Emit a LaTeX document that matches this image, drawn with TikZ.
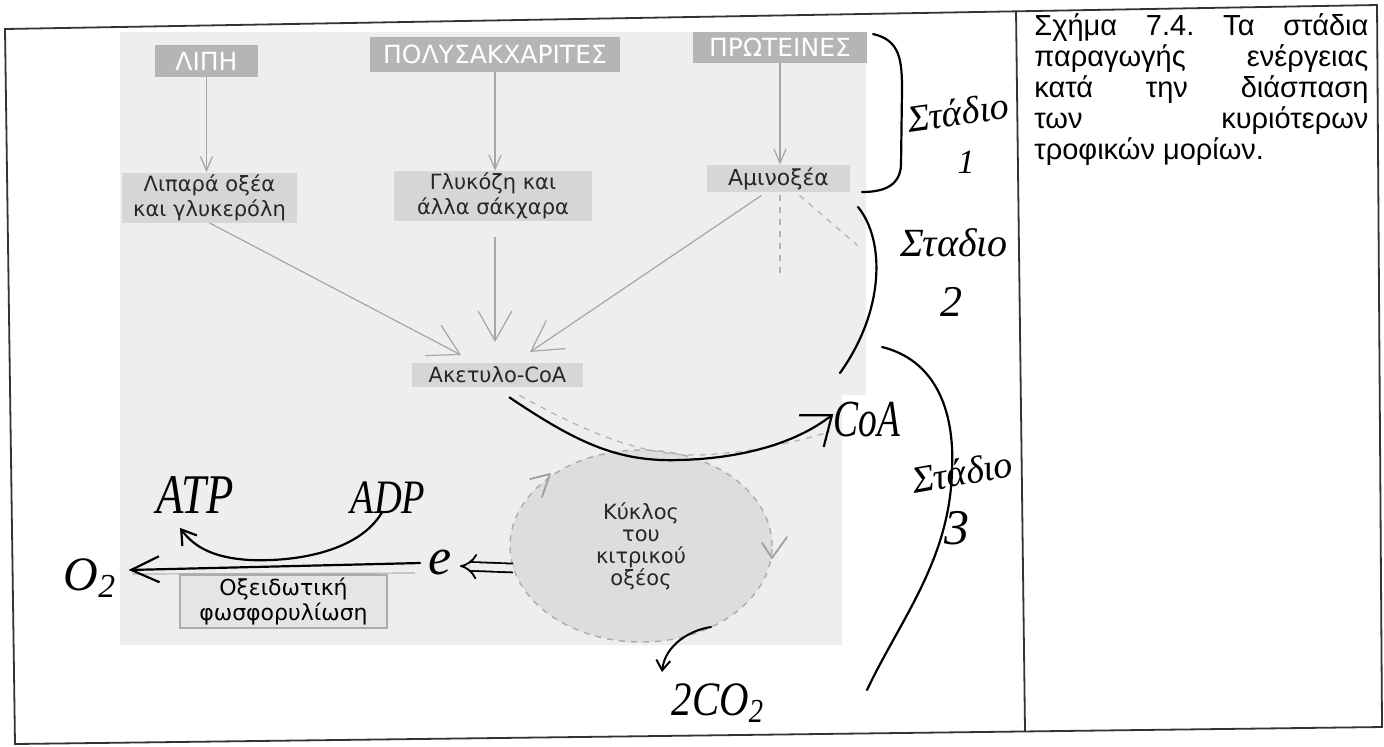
\documentclass[tikz,border=0pt]{standalone}
\usepackage{fontspec}
\setmainfont{Liberation Sans}
\newfontfamily\dvs{DejaVu Sans}
\newfontfamily\handfont{Liberation Serif}
\usetikzlibrary{arrows.meta,shapes.geometric,calc}
\tikzset{
  framel/.style={draw=black!80, line width=0.9pt},
  topbox/.style={fill=gray!58, text=white, inner sep=0pt, font=\dvs\fontsize{12.5}{13}\selectfont},
  midbox/.style={fill=gray!32, text=black!85, inner sep=0pt, align=center, font=\dvs\fontsize{10.5}{12.5}\selectfont},
  oxbox/.style={fill=gray!20, draw=gray!65, line width=0.8pt, inner sep=0pt, align=center, font=\dvs\fontsize{11}{12.5}\selectfont},
  thinarr/.style={draw=gray!70, line width=0.6pt, -{Straight Barb[length=7pt,width=6pt]}},
  bigarr/.style={draw=gray!70, line width=0.6pt, -{Straight Barb[length=15pt,width=17pt]}},
  graydash/.style={draw=gray!60, line width=0.6pt, dashed},
  hand/.style={draw=black, line width=1.1pt, line cap=round, line join=round},
  hw/.style={inner sep=0pt, text=black, font=\handfont\itshape\fontsize{18}{20}\selectfont},
}
\newcommand{\hsq}[2]{\scalebox{#1}[1]{#2}}
\begin{document}
\begin{tikzpicture}[x=0.5pt,y=-0.5pt]
\useasboundingbox (0,0) rectangle (1384,746);
\fill[white] (0,0) rectangle (1384,746);
% gray halftone background of the figure
\fill[gray!13] (120,32) -- (866,32) -- (866,395) -- (842,395) -- (842,645) -- (120,645) -- cycle;
% frame
\draw[framel] (5,29) -- (1377,5) -- (1382,727) -- (15,744) -- cycle;
\draw[framel] (1016,11) -- (1025,731);

% printed boxes
\node[topbox, minimum width=51.5pt, minimum height=16pt] (lipi) at (206.5,61) {ΛΙΠΗ};
\node[topbox, minimum width=125pt, minimum height=17.5pt] (poly) at (495,54.5) {ΠΟΛΥΣΑΚΧΑΡΙΤΕΣ};
\node[topbox, minimum width=87pt, minimum height=15.5pt] (prot) at (780,47.5) {ΠΡΩΤΕΙΝΕΣ};
\node[midbox, minimum width=87.5pt, minimum height=25pt] (lipara) at (209.5,197.5) {Λιπαρά οξέα\\και γλυκερόλη};
\node[midbox, minimum width=99pt, minimum height=25pt] (glyk) at (493,196) {Γλυκόζη και\\άλλα σάκχαρα};
\node[midbox, minimum width=71.5pt, minimum height=13.5pt, font=\dvs\fontsize{11}{12.5}\selectfont] (amino) at (778.5,178.5) {Αμινοξέα};
\node[midbox, minimum width=85.5pt, minimum height=12pt, font=\dvs\fontsize{10.5}{12}\selectfont] (acetyl) at (497.5,375) {Ακετυλο-CoA};
\node[ellipse, draw=gray!65, dashed, fill=gray!27, line width=0.7pt, minimum width=131pt, minimum height=96pt, inner sep=0pt, align=center, text=black!85, font=\dvs\fontsize{10.5}{11}\selectfont] (cycle) at (641,546) {Κύκλος\\του\\κιτρικού\\οξέος};
\node[oxbox, minimum width=103.5pt, minimum height=26.5pt] (oxid) at (283.5,601.5) {Οξειδωτική\\φωσφορυλίωση};

% printed arrows
\draw[thinarr] (lipi.south) -- (lipi.south |- lipara.north);
\draw[thinarr] (poly.south) -- (poly.south |- glyk.north);
\draw[thinarr] (prot.south) -- (prot.south |- amino.north);
\coordinate (t1) at (461,355);
\coordinate (t2) at (495,342);
\coordinate (t3) at (530,352);
\draw[bigarr] (lipara.south) -- (t1);
\draw[bigarr, shorten <=8pt] (glyk.south -| poly.south) -- (t2);
\draw[bigarr] ($(amino.south)+(-17,3)$) -- (t3);
\draw[graydash] ($(amino.south)+(1.5,3)$) -- ++(0,78);
\draw[graydash] ($(amino.south)+(21,3)$) -- ++(58,50);
\draw[graydash] ($(acetyl.south)+(22,8)$) .. controls (600,440) and (650,456) .. (700,455) .. controls (760,452) and (800,440) .. (830,432);
\draw[draw=gray!60, line width=0.6pt] (415,573) -- (132,574);
% small arrowheads on the cycle
\draw[draw=gray!75, line width=0.9pt, line cap=round, line join=round] (530,479) -- (550,474) -- (542,497);
\draw[draw=gray!75, line width=0.9pt, line cap=round, line join=round] (762,543) -- (772,558) -- (787,537);

% handwritten labels
\node[hw, font=\handfont\itshape\fontsize{26}{26}\selectfont] (coa) at (867,420) {\hsq{0.72}{CoA}};
\node[hw, font=\handfont\itshape\fontsize{28}{28}\selectfont] (atp) at (195,495) {\hsq{0.8}{ATP}};
\node[hw, font=\handfont\itshape\fontsize{24}{24}\selectfont] (adp) at (388,498) {\hsq{0.8}{ADP}};
\node[hw, font=\handfont\itshape\fontsize{26}{26}\selectfont] (e) at (440,562) {e};
\node[hw, font=\handfont\itshape\fontsize{24}{24}\selectfont] (o2) at (90,578) {O\textsubscript{2}};
\node[hw, font=\handfont\itshape\fontsize{24}{24}\selectfont] (co2) at (718,703) {\hsq{0.85}{2CO\textsubscript{2}}};
\node[hw, font=\handfont\itshape\fontsize{19}{19}\selectfont, rotate=8] (st1) at (958,112) {Στάδιο};
\node[hw, font=\handfont\itshape\fontsize{17}{17}\selectfont] (n1) at (966,162) {1};
\node[hw, font=\handfont\itshape\fontsize{20}{20}\selectfont] (st2) at (954,243) {Σταδιο};
\node[hw, font=\handfont\itshape\fontsize{22}{22}\selectfont] (n2) at (951,302) {2};
\node[hw, font=\handfont\itshape\fontsize{19}{19}\selectfont, rotate=10] (st3) at (962,472) {Στάδιο};
\node[hw, font=\handfont\itshape\fontsize{25}{25}\selectfont] (n3) at (957,528) {3};

% handwritten connectors
\draw[hand, -{Straight Barb[length=13pt,width=20pt]}] ($(acetyl.south)+(12,10)$) .. controls (580,445) and (620,462) .. (680,460) .. controls (750,458) and (800,440) .. ($(coa.west)+(0,-6)$);
\coordinate (co2tip) at (662,672);
\draw[hand, line width=1pt, -{Straight Barb[length=5pt,width=7pt]}] ($(cycle.center)+(70,81)$) .. controls (690,630) and (665,645) .. (co2tip);
\draw[line width=0.9pt, double=gray!13, double distance=3.5pt, -{Implies}] ($(cycle.center)+(-128,22)$) -- ($(e.east)+(8,4)$);
\draw[hand, -{Straight Barb[length=14pt,width=13pt]}] ($(e.west)+(-8,1)$) -- ($(o2.east)+(12,-8)$);
\draw[hand, -{Straight Barb[length=7pt,width=9pt]}] ($(adp.south)+(-6,-2)$) .. controls (360,550) and (300,562) .. (250,560) .. controls (215,558) and (195,548) .. ($(atp.south)+(-15,14)$);
% stage brackets
\draw[hand] (873,34) .. controls (900,40) and (902,60) .. (902,90) -- (901,165) .. controls (900,185) and (885,192) .. (862,192);
\draw[hand] (858,207) .. controls (885,240) and (885,310) .. (840,373);
\draw[hand] (882,347) .. controls (935,360) and (955,410) .. (952,470) .. controls (950,560) and (900,620) .. (867,690);

% caption
\node[anchor=base west, inner sep=0pt] (cap) at (1034,35) {\parbox[t]{167pt}{\frenchspacing\fontsize{14.5}{15.5}\selectfont Σχήμα 7.4. Τα στάδια\linebreak παραγωγής ενέργειας\linebreak κατά την διάσπαση\linebreak των κυριότερων\linebreak τροφικών μορίων.}};
\end{tikzpicture}
\end{document}
